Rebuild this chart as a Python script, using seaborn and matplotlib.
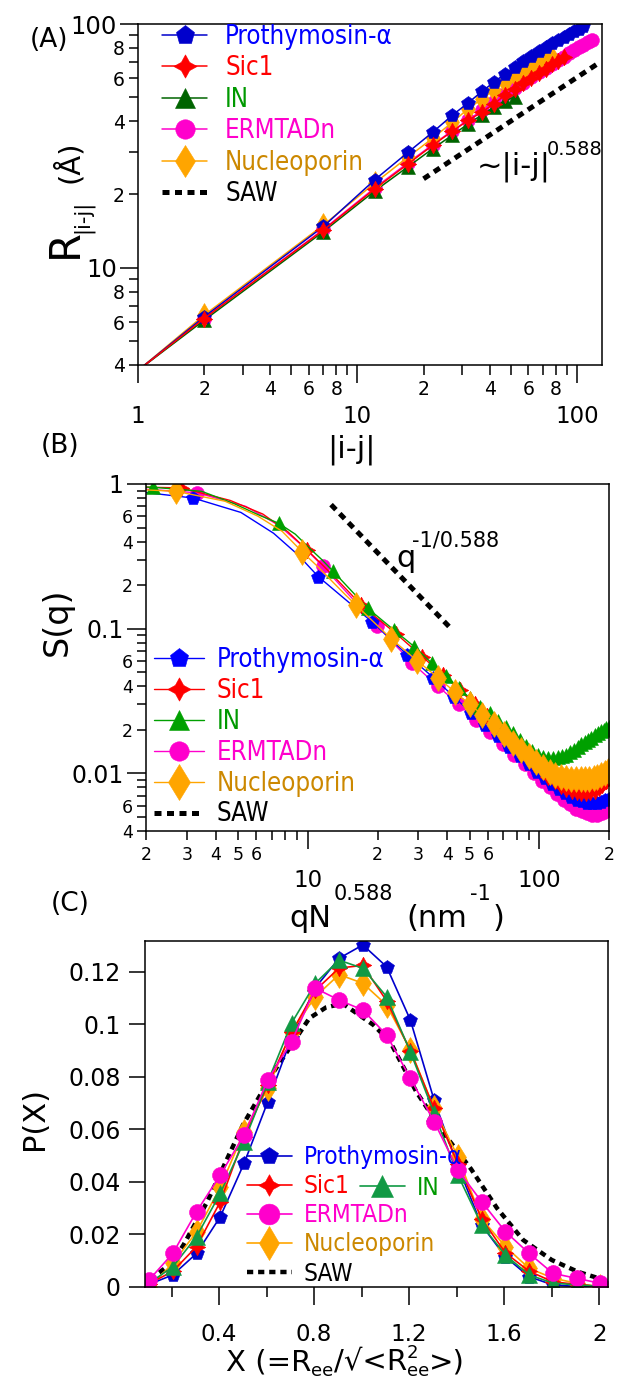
import numpy as np
import matplotlib
matplotlib.use("Agg")
import matplotlib.pyplot as plt
from matplotlib.font_manager import FontProperties
from matplotlib.ticker import FixedLocator, FixedFormatter, FuncFormatter
import seaborn as sns

sns.set_theme(style="ticks")
plt.rcParams["font.family"] = ["DejaVu Sans"]
plt.rcParams["mathtext.fontset"] = "dejavusans"

W, H = 617, 1381

# ---------------- panel A : R(|i-j|) ----------------
ij_proth = [1, 2, 7, 12, 17, 22, 27, 32, 37, 42, 47, 52, 57, 62, 67, 72, 77, 82, 87, 92, 97, 102, 107]
r_proth = [3.8, 6.3, 14.8, 23.0, 29.8, 36.0, 42.2, 47.6, 53.0, 57.9, 62.5, 66.8, 70.5, 74.0, 77.3,
           80.5, 83.4, 86.2, 88.8, 91.3, 93.6, 95.8, 98.2]
ij_sic1 = [1, 2, 7, 12, 17, 22, 27, 32, 37, 42, 47, 52, 57, 62, 67, 72, 77, 82, 87]
r_sic1 = [3.8, 6.2, 14.3, 21.1, 26.7, 31.8, 36.3, 40.3, 43.6, 47.2, 51.1, 54.2, 57.2, 60.1, 62.9,
          65.6, 68.3, 70.8, 73.3]
ij_in = [1, 2, 7, 12, 17, 22, 27, 32, 37, 42, 47, 52]
r_in = [3.8, 6.1, 14.1, 20.7, 26.0, 30.8, 35.0, 39.0, 42.5, 45.7, 48.4, 50.3]
ij_erm = [1, 2, 7, 12, 17, 22, 27, 32, 37, 42, 47, 52, 57, 62, 67, 72, 77, 82, 87, 92, 97, 102,
          107, 112, 117]
r_erm = [3.8, 6.2, 14.4, 21.3, 27.0, 32.0, 36.5, 40.5, 44.3, 48.0, 51.5, 54.5, 57.5, 60.5, 63.3,
         66.0, 68.5, 71.0, 73.5, 75.8, 78.0, 80.2, 82.2, 84.2, 86.0]
ij_nup = [1, 2, 7, 12, 17, 22, 27, 32, 37, 42, 47, 52, 57, 62, 67, 72, 77]
r_nup = [3.8, 6.4, 15.0, 22.3, 28.5, 34.0, 39.5, 45.0, 49.4, 53.8, 57.9, 61.5, 64.6, 67.0, 69.0,
         70.8, 72.3]
saw_ij = [20, 125]
saw_r = [23.2, 69.0]

# ---------------- panel B : S(q) ----------------
q_proth = [3.2, 11.1, 19.0, 26.9, 34.8, 42.7, 50.6, 58.5, 66.4, 74.3, 82.2, 90.1, 98.0, 105.9,
           113.8, 121.7, 129.6, 137.5, 145.4, 153.3, 161.2, 169.1, 177.0, 184.9, 192.8, 200.7]
s_proth = [0.80, 0.229, 0.111, 0.066, 0.046, 0.034, 0.0263, 0.0215, 0.0180, 0.0153, 0.0132,
           0.0116, 0.0103, 0.0093, 0.0085, 0.0078, 0.0073, 0.0069, 0.0066, 0.0064, 0.0062,
           0.0062, 0.0062, 0.0063, 0.0065, 0.0067]
q_sic1 = [2.84, 9.94, 17.04, 24.14, 31.24, 38.34, 45.44, 52.54, 59.64, 66.74, 73.84, 80.94, 88.04,
          95.14, 102.24, 109.34, 116.44, 123.54, 130.64, 137.74, 144.84, 151.94, 159.04, 166.14,
          173.24, 180.34, 187.44, 194.54]
s_sic1 = [0.94, 0.35, 0.145, 0.092, 0.064, 0.048, 0.0375, 0.030, 0.0248, 0.0208, 0.0177, 0.0152,
          0.0133, 0.0117, 0.0105, 0.0095, 0.0088, 0.0082, 0.0078, 0.0075, 0.0074, 0.0073, 0.0073,
          0.0074, 0.0076, 0.0079, 0.0083, 0.0088]
q_in = [2.14, 7.49, 12.84, 18.19, 23.54, 28.89, 34.24, 39.59, 44.94, 50.29, 55.64, 60.99, 66.34,
        71.69, 77.04, 82.39, 87.74, 93.09, 98.44, 103.79, 109.14, 114.49, 119.84, 125.19, 130.54,
        135.89, 141.24, 146.59, 151.94, 157.29, 162.64, 167.99, 173.34, 178.69, 184.04, 189.39,
        194.74, 200.09]
s_in = [0.95, 0.535, 0.25, 0.138, 0.098, 0.075, 0.058, 0.047, 0.039, 0.033, 0.029, 0.026, 0.0232,
        0.0210, 0.0190, 0.0170, 0.0154, 0.0142, 0.0135, 0.0130, 0.0128, 0.0128, 0.0129, 0.0131,
        0.0135, 0.0140, 0.0146, 0.0153, 0.0159, 0.0165, 0.0171, 0.0177, 0.0183, 0.0189, 0.0195,
        0.0200, 0.0205, 0.0210]
q_erm = [3.32, 11.62, 19.92, 28.22, 36.52, 44.82, 53.12, 61.42, 69.72, 78.02, 86.32, 94.62,
         102.92, 111.22, 119.52, 127.82, 136.12, 144.42, 152.72, 161.02, 169.32, 177.62, 185.92,
         194.22]
s_erm = [0.87, 0.27, 0.105, 0.058, 0.040, 0.030, 0.0235, 0.0192, 0.0160, 0.0135, 0.0116, 0.0101,
         0.0089, 0.0080, 0.0072, 0.0066, 0.0061, 0.0057, 0.0055, 0.0053, 0.0052, 0.0052, 0.0053,
         0.0055]
q_nup = [2.7, 9.45, 16.2, 22.95, 29.7, 36.45, 43.2, 49.95, 56.7, 63.45, 70.2, 76.95, 83.7, 90.45,
         97.2, 103.95, 110.7, 117.45, 124.2, 130.95, 137.7, 144.45, 151.2, 157.95, 164.7, 171.45,
         178.2, 184.95, 191.7, 198.45]
s_nup = [0.89, 0.34, 0.145, 0.085, 0.060, 0.046, 0.0365, 0.030, 0.0255, 0.0218, 0.0186, 0.0162,
         0.0146, 0.0131, 0.0119, 0.0110, 0.0103, 0.0098, 0.0095, 0.0093, 0.0092, 0.0091, 0.0091,
         0.0091, 0.0092, 0.0093, 0.0095, 0.0098, 0.0101, 0.0104]
# unmarked points of the curves (low q)
qline_proth = [1.5, 5.14, 7.11, 9.09]
sline_proth = [0.92, 0.636, 0.457, 0.323]
qline_sic1 = [1.5, 4.62, 6.39, 8.17, 11.72, 13.49, 15.27]
sline_sic1 = [0.96, 0.77, 0.62, 0.47, 0.27, 0.215, 0.175]
qline_in = [1.5, 3.48, 4.82, 6.15, 8.83, 10.17, 11.5]
sline_in = [0.96, 0.89, 0.73, 0.61, 0.45, 0.36, 0.30]
qline_erm = [1.5, 5.40, 7.47, 9.55]
sline_erm = [0.95, 0.70, 0.52, 0.37]
qline_nup = [1.5, 4.39, 6.08, 7.76, 11.14, 12.83, 14.51]
sline_nup = [0.93, 0.76, 0.60, 0.47, 0.265, 0.21, 0.172]
saw_q = [12.6, 41.6]
saw_s = [0.72, 0.10]

# ---------------- panel C : P(X) ----------------
x_c = [0.105, 0.205, 0.305, 0.405, 0.505, 0.605, 0.705, 0.805, 0.905, 1.005, 1.105, 1.205,
       1.305, 1.405, 1.505, 1.605, 1.705, 1.805, 1.905, 2.005]
p_proth = [0.001, 0.0046, 0.0128, 0.0268, 0.0471, 0.0706, 0.095, 0.114, 0.1252, 0.1303, 0.122,
           0.1017, 0.0712, 0.046, 0.0236, 0.0115, 0.0039, 0.0008, 0.0002, 0.0]
p_sic1 = [0.0012, 0.006, 0.0154, 0.0325, 0.057, 0.077, 0.097, 0.113, 0.1215, 0.1225, 0.109,
          0.090, 0.068, 0.047, 0.026, 0.013, 0.006, 0.002, 0.001, 0.0002]
p_in = [0.0014, 0.0077, 0.0192, 0.0357, 0.0554, 0.0782, 0.1005, 0.1157, 0.1245, 0.1214, 0.1106,
        0.0896, 0.0662, 0.0427, 0.0236, 0.0122, 0.0046, 0.0015, 0.0008, 0.0003]
p_erm = [0.0027, 0.0128, 0.0287, 0.0427, 0.0579, 0.0789, 0.0935, 0.1138, 0.1093, 0.1055, 0.0960,
         0.0795, 0.0630, 0.0446, 0.0325, 0.0211, 0.0128, 0.0052, 0.0033, 0.0014]
p_nup = [0.0, 0.009, 0.021, 0.038, 0.0592, 0.0757, 0.0973, 0.1106, 0.119, 0.1157, 0.1074, 0.0903,
         0.068, 0.0496, 0.026, 0.0154, 0.0071, 0.0034, 0.0014, 0.0]
saw_x = [0.11, 0.2, 0.25, 0.35, 0.5, 0.63, 0.78, 0.85, 0.92, 1.05, 1.12, 1.23, 1.35, 1.46, 1.57,
         1.68, 1.8, 1.91, 2.02]
saw_p = [0.003, 0.009, 0.016, 0.0325, 0.0617, 0.082, 0.1024, 0.1065, 0.108, 0.0998, 0.0934,
         0.0744, 0.058, 0.045, 0.030, 0.0179, 0.0103, 0.0058, 0.0027]

names = ["Prothymosin-\u03b1", "Sic1", "IN", "ERMTADn", "Nucleoporin", "SAW"]
text_colors = ["#0000ff", "#ff0000", "#009900", "#ff00cc", "#cc8800", "black"]
star4 = (4, 1, 0)

fig = plt.figure(figsize=(W / 100, H / 100), dpi=100)
fig.patch.set_facecolor("white")


def ptext(x, y, s, size, **kw):
    return fig.text(x / W, 1 - y / H, s, fontsize=size, color="black", **kw)


def chain(x0, baseline, pieces):
    # consecutive text pieces (sub/superscripts) placed one after another
    renderer = fig.canvas.get_renderer()
    x = x0
    for s, size, dy, advance in pieces:
        t = ptext(x, baseline + dy, s, size, ha="left", va="baseline")
        if advance:
            x = t.get_window_extent(renderer).x1


def box(ax):
    for sp in ax.spines.values():
        sp.set_color("black")
        sp.set_linewidth(1.1)
    ax.set_facecolor("white")
    ax.tick_params(which="both", direction="out", colors="black", width=1.1,
                   top=False, right=False)


def log_ticks(axis, majors, major_labels, minors, digits):
    axis.set_major_locator(FixedLocator(majors))
    axis.set_major_formatter(FixedFormatter(major_labels))
    axis.set_minor_locator(FixedLocator(minors))

    def fmt(v, pos):
        d = int(round(v / 10 ** np.floor(np.log10(v) + 1e-9)))
        return str(d) if d in digits else ""
    axis.set_minor_formatter(FuncFormatter(fmt))


def series(ax, x, y, color, marker, ms, lw, label, every=None):
    sns.lineplot(x=x, y=y, ax=ax, color=color, marker=marker, markersize=ms,
                 markeredgecolor=color, markeredgewidth=0.4, linewidth=lw,
                 markevery=every, sort=False, errorbar=None, label=label)
    return ax.lines[-1]


def joined(xm, ym, xl, yl):
    x = np.array(list(xm) + list(xl), dtype=float)
    y = np.array(list(ym) + list(yl), dtype=float)
    order = np.argsort(x)
    marked = [int(i) for i in np.flatnonzero(order < len(xm))]
    return x[order], y[order], marked


def saw_line(ax, x, y, lw):
    ln, = ax.plot(x, y, color="black", linewidth=lw, linestyle=(0, (1.4, 1.1)),
                  dash_capstyle="butt", label="SAW")
    return ln


def legend(ax, handles, labels, colors, anchor, size, hlen, pad, spacing, mscale):
    prop = FontProperties(family="DejaVu Sans", stretch="condensed", size=size)
    lg = ax.legend(handles, labels, loc="upper left", bbox_to_anchor=anchor, frameon=False,
                   prop=prop, handlelength=hlen, handletextpad=pad, labelspacing=spacing,
                   borderpad=0, borderaxespad=0, markerscale=mscale)
    for t, c in zip(lg.get_texts(), colors):
        t.set_color(c)
    return lg


order = ["Prothymosin", "Sic1", "IN", "ERMTADn", "Nucleoporin", "SAW"]

# ======== A ========
axA = fig.add_axes([138 / W, 1 - 365 / H, 464 / W, 341 / H])
axA.set_xscale("log")
axA.set_yscale("log")
h = {}
h["ERMTADn"] = series(axA, ij_erm, r_erm, "#ff00cc", "o", 10, 1.1, names[3], (1, 1))
h["IN"] = series(axA, ij_in, r_in, "#006400", "^", 10, 1.1, names[2], (1, 1))
h["Nucleoporin"] = series(axA, ij_nup, r_nup, "#ffa500", "d", 12, 1.1, names[4], (1, 1))
h["Prothymosin"] = series(axA, ij_proth, r_proth, "#0000cc", "p", 10, 1.1, names[0], (1, 1))
h["Sic1"] = series(axA, ij_sic1, r_sic1, "#ff0000", star4, 12, 1.1, names[1], (1, 1))
h["SAW"] = saw_line(axA, saw_ij, saw_r, 3.6)
axA.set_xlim(1, 130)
axA.set_ylim(4, 100)
box(axA)
log_ticks(axA.xaxis, [1, 10, 100], ["1", "10", "100"],
          [2, 3, 4, 5, 6, 7, 8, 9, 20, 30, 40, 50, 60, 70, 80, 90], {2, 4, 6, 8})
log_ticks(axA.yaxis, [10, 100], ["10", "100"],
          [4, 5, 6, 7, 8, 9, 20, 30, 40, 50, 60, 70, 80, 90], {2, 4, 6, 8})
axA.tick_params(axis="x", which="major", length=13, pad=16, labelsize=16.5)
axA.tick_params(axis="x", which="minor", length=7, pad=4, labelsize=13.5)
axA.tick_params(axis="y", which="major", length=13, pad=2, labelsize=17.5)
axA.tick_params(axis="y", which="minor", length=6.5, pad=3, labelsize=13.5)
legend(axA, [h[k] for k in order], names, text_colors, (0.052, 1.0), 18.5, 1.75, 0.7, 0.21, 1.4)
ptext(477, 174.5, "~|i-j|", 22, ha="left", va="baseline")
ptext(547, 155, "0.588", 14, ha="left", va="baseline")
ptext(30, 40, "(A)", 19, ha="left", va="center")
ptext(351, 458, "|i-j|", 22, ha="center", va="baseline")
ptext(77, 258, "R", 30, rotation=90, rotation_mode="anchor", ha="left", va="baseline")
ptext(88, 233, "|i-j|", 15, rotation=90, rotation_mode="anchor", ha="left", va="baseline")
ptext(78, 183, "(\u00c5)", 21, rotation=90, rotation_mode="anchor", ha="left", va="baseline")

# ======== B ========
axB = fig.add_axes([146 / W, 1 - 831 / H, 463 / W, 347 / H])
axB.set_xscale("log")
axB.set_yscale("log")
hb = {}
x, y, m = joined(q_erm, s_erm, qline_erm, sline_erm)
hb["ERMTADn"] = series(axB, x, y, "#ff00cc", "o", 10, 1.0, names[3], m)
x, y, m = joined(q_proth, s_proth, qline_proth, sline_proth)
hb["Prothymosin"] = series(axB, x, y, "#0000ff", "p", 10, 1.0, names[0], m)
x, y, m = joined(q_sic1, s_sic1, qline_sic1, sline_sic1)
hb["Sic1"] = series(axB, x, y, "#ff0000", star4, 12, 1.0, names[1], m)
x, y, m = joined(q_in, s_in, qline_in, sline_in)
hb["IN"] = series(axB, x, y, "#00a000", "^", 10, 1.0, names[2], m)
x, y, m = joined(q_nup, s_nup, qline_nup, sline_nup)
hb["Nucleoporin"] = series(axB, x, y, "#ffa500", "d", 13, 1.0, names[4], m)
hb["SAW"] = saw_line(axB, saw_q, saw_s, 3.6)
axB.set_xlim(2, 200)
axB.set_ylim(0.004, 1.0)
box(axB)
log_ticks(axB.xaxis, [10, 100], ["10", "100"],
          [2, 3, 4, 5, 6, 7, 8, 9, 20, 30, 40, 50, 60, 70, 80, 90, 200], {2, 3, 4, 5, 6})
log_ticks(axB.yaxis, [0.01, 0.1, 1], ["0.01", "0.1", "1"],
          [0.004, 0.005, 0.006, 0.007, 0.008, 0.009, 0.02, 0.03, 0.04, 0.05, 0.06, 0.07,
           0.08, 0.09, 0.2, 0.3, 0.4, 0.5, 0.6, 0.7, 0.8, 0.9], {2, 4, 6})
axB.tick_params(axis="x", which="major", length=12.7, pad=14.4, labelsize=16.5)
axB.tick_params(axis="x", which="minor", length=6.5, pad=4, labelsize=12.5)
axB.tick_params(axis="y", which="major", length=14, pad=2, labelsize=17)
axB.tick_params(axis="y", which="minor", length=6.2, pad=3, labelsize=12.5)
legend(axB, [hb[k] for k in order], names, text_colors, (0.017, 0.53), 18.5, 1.95, 0.5, 0.19, 1.4)
ptext(396, 567, "q", 22, ha="left", va="baseline")
ptext(412, 546, "-1/0.588", 15, ha="left", va="baseline")
ptext(41, 446, "(B)", 19, ha="left", va="center")
ptext(67, 622, "S(q)", 24, rotation=90, rotation_mode="anchor", ha="center", va="baseline")
ptext(289, 927, "qN", 22, ha="left", va="baseline")
ptext(334, 900, "0.588", 15, ha="left", va="baseline")
ptext(406, 927, "(nm", 22, ha="left", va="baseline")
ptext(470, 900, "-1", 15, ha="left", va="baseline")
ptext(493, 927, ")", 22, ha="left", va="baseline")

# ======== C ========
axC = fig.add_axes([145 / W, 1 - 1287 / H, 463 / W, 346 / H])
hc = {}
hc["SAW"] = saw_line(axC, saw_x, saw_p, 3.2)
hc["Prothymosin"] = series(axC, x_c, p_proth, "#0000cc", "p", 10, 1.2, names[0])
hc["Nucleoporin"] = series(axC, x_c, p_nup, "#ffa500", "d", 13, 1.2, names[4])
hc["Sic1"] = series(axC, x_c, p_sic1, "#ff0000", star4, 12, 1.2, names[1])
hc["IN"] = series(axC, x_c, p_in, "#119944", "^", 12, 1.2, names[2])
hc["ERMTADn"] = series(axC, x_c, p_erm, "#ff00cc", "o", 11.5, 1.2, names[3])
axC.set_xlim(0.088, 2.037)
axC.set_ylim(0, 0.1318)
box(axC)
axC.xaxis.set_major_locator(FixedLocator([0.4, 0.8, 1.2, 1.6, 2.0]))
axC.xaxis.set_major_formatter(FixedFormatter(["0.4", "0.8", "1.2", "1.6", "2"]))
axC.xaxis.set_minor_locator(FixedLocator([0.2, 0.6, 1.0, 1.4, 1.8]))
axC.yaxis.set_major_locator(FixedLocator([0, 0.02, 0.04, 0.06, 0.08, 0.1, 0.12]))
axC.yaxis.set_major_formatter(FixedFormatter(["0", "0.02", "0.04", "0.06", "0.08", "0.1", "0.12"]))
axC.tick_params(axis="x", which="major", length=12.7, pad=13.5, labelsize=16.5)
axC.tick_params(axis="x", which="minor", length=7.2)
axC.tick_params(axis="y", which="major", length=11.5, pad=5.8, labelsize=17)
axC.tick_params(axis="y", which="minor", left=False)
c_order = ["Prothymosin", "Sic1", "ERMTADn", "Nucleoporin", "SAW"]
c_names = [names[0], names[1], names[3], names[4], names[5]]
c_cols = [text_colors[0], text_colors[1], text_colors[3], text_colors[4], text_colors[5]]
leg1 = legend(axC, [hc[k] for k in c_order], c_names, c_cols, (0.22, 0.41), 17.5, 1.85, 0.5,
              0.21, 1.3)
axC.add_artist(leg1)
legend(axC, [hc["IN"]], [names[2]], [text_colors[2]], (0.464, 0.321), 17.5, 1.85, 0.5, 0.21, 1.3)
ptext(51, 904, "(C)", 19, ha="left", va="center")
ptext(43, 1118, "P(X)", 22, rotation=90, rotation_mode="anchor", ha="center", va="baseline")
chain(226, 1370, [("X (=R", 21, 0, True), ("ee", 13, 6, True), ("/\u221a<R", 21, 0, True),
                  ("2", 13, -12, False), ("ee", 13, 6, True), (">)", 21, 0, True)])

fig.savefig("out.png", dpi=100, facecolor="white")
